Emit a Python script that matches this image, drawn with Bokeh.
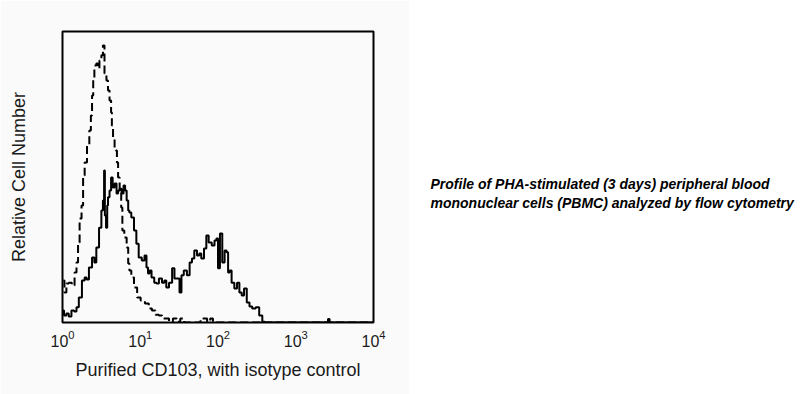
from bokeh.plotting import figure
from bokeh.layouts import row
from bokeh.models import Range1d, FixedTicker, Label
from bokeh.embed import file_html
from bokeh.resources import INLINE

# ---- data (log10 of fluorescence channel, relative count 0..100) ----
stained_log = [0.00, 0.04, 0.06, 0.10, 0.13, 0.17, 0.19, 0.23, 0.27, 0.30, 0.32, 0.36, 0.40, 0.42,
               0.45, 0.49, 0.51, 0.53, 0.54, 0.55, 0.57, 0.58, 0.59, 0.62, 0.63, 0.66, 0.68, 0.71,
               0.72, 0.75, 0.77, 0.80, 0.81, 0.84, 0.85, 0.87, 0.90, 0.94, 0.96, 1.00, 1.04, 1.07,
               1.09, 1.11, 1.13, 1.16, 1.20, 1.22, 1.26, 1.30, 1.32, 1.35, 1.39, 1.43, 1.45, 1.49,
               1.52, 1.54, 1.58, 1.62, 1.65, 1.68, 1.71, 1.75, 1.77, 1.80, 1.84, 1.86, 1.90, 1.94,
               1.97, 1.99, 2.01, 2.04, 2.07, 2.10, 2.12, 2.14, 2.16, 2.19, 2.23, 2.26, 2.29, 2.32,
               2.35, 2.39, 2.42, 2.46, 2.51, 2.55, 2.59, 2.61, 3.00, 3.41, 3.42, 3.43, 3.44, 4.00]
stained_count = [4.1, 2.4, 3.1, 2.1, 4.1, 3.8, 5.2, 8.6, 14.4, 15.5, 14.8, 18.9, 22.3, 20.6,
                 25.8, 32.6, 38.5, 41.9, 52.2, 36.8, 32.6, 40.2, 43.0, 45.4, 49.8, 46.4, 47.8, 44.3,
                 45.4, 46.0, 44.3, 47.1, 45.4, 41.9, 38.5, 37.8, 36.1, 31.6, 27.1, 22.3, 21.3, 23.0,
                 18.9, 16.8, 17.9, 15.5, 13.7, 13.4, 15.1, 13.7, 14.4, 12.0, 13.7, 18.6, 15.1, 15.1,
                 10.3, 16.2, 17.9, 16.2, 20.6, 22.0, 24.7, 23.0, 23.7, 22.0, 25.4, 29.9, 27.5, 26.5,
                 28.2, 28.9, 18.6, 30.6, 20.6, 24.7, 24.1, 17.2, 17.9, 13.7, 11.7, 13.7, 10.3, 9.3,
                 11.7, 6.9, 5.5, 4.8, 5.2, 2.4, 0.3, 0.0, 0.0, 0.0, 1.2, 1.2, 0.0, 0.0]

isotype_log = [0.01, 0.04, 0.06, 0.10, 0.14, 0.17, 0.19, 0.21, 0.23, 0.26, 0.27, 0.30, 0.33, 0.36,
               0.37, 0.39, 0.40, 0.42, 0.45, 0.46, 0.49, 0.51, 0.53, 0.55, 0.58, 0.59, 0.62, 0.63,
               0.64, 0.66, 0.68, 0.69, 0.71, 0.72, 0.75, 0.76, 0.78, 0.81, 0.84, 0.85, 0.87, 0.90,
               0.94, 0.98, 1.03, 1.09, 1.13, 1.17, 1.22, 1.26, 1.30, 1.35, 1.39, 1.45, 1.49, 1.54,
               1.59, 1.71, 1.84, 1.88, 1.92, 1.95, 4.00]
isotype_count = [14.4, 10.3, 13.4, 13.7, 12.7, 17.2, 20.6, 27.5, 35.7, 40.2, 50.5, 55.0, 60.8, 66.0,
                 71.1, 78.0, 84.2, 88.3, 89.0, 87.3, 90.0, 91.8, 95.2, 85.6, 83.2, 79.7, 76.3, 72.2,
                 67.7, 63.2, 59.8, 59.1, 55.0, 49.8, 45.4, 39.5, 31.6, 29.2, 25.8, 20.3, 17.9, 15.5,
                 12.0, 8.6, 7.6, 6.5, 4.8, 4.1, 2.7, 2.4, 1.4, 1.4, 0.3, 1.4, 0.3, 1.4,
                 0.0, 0.0, 1.4, 0.3, 1.4, 0.0, 0.0]

decade_ticks = [1, 10, 100, 1000, 10000]
x_label = "Purified CD103, with isotype control"
y_label = "Relative Cell Number"
caption_lines = ["Profile of PHA-stimulated (3 days) peripheral blood",
                 "mononuclear cells (PBMC) analyzed by flow cytometry"]

stained_x = [10 ** v for v in stained_log]
isotype_x = [10 ** v for v in isotype_log]

BG = "#fafafa"
FONT = "Liberation Sans"

p = figure(width=409, height=394, x_axis_type="log",
           x_range=Range1d(1, 10000), y_range=Range1d(0, 100),
           output_backend="svg", toolbar_location=None,
           min_border_left=62, min_border_right=36, min_border_top=31, min_border_bottom=72)
p.background_fill_color = BG
p.border_fill_color = BG
p.outline_line_color = "black"
p.outline_line_width = 2
p.grid.visible = False

p.step(stained_x, stained_count, mode="center", line_color="black", line_width=2)
p.step(isotype_x, isotype_count, mode="center", line_color="black", line_width=2,
       line_dash="8 4")

xa = p.xaxis[0]
xa.ticker = FixedTicker(ticks=decade_ticks, minor_ticks=[])
xa.axis_line_color = None
xa.major_tick_line_color = None
xa.minor_tick_line_color = None
xa.major_tick_out = 0
xa.major_label_standoff = 7
xa.major_label_text_font = FONT
xa.major_label_text_font_size = "16px"
xa.major_label_text_color = "#1a1a1a"
xa.axis_label = x_label
xa.axis_label_text_font = FONT
xa.axis_label_text_font_size = "18px"
xa.axis_label_text_font_style = "normal"
xa.axis_label_text_color = "#1a1a1a"
xa.axis_label_standoff = 10

ya = p.yaxis[0]
ya.ticker = FixedTicker(ticks=[], minor_ticks=[])
ya.axis_line_color = None
ya.major_tick_line_color = None
ya.minor_tick_line_color = None
ya.major_tick_out = 0
ya.axis_label = y_label
ya.axis_label_text_font = FONT
ya.axis_label_text_font_size = "18px"
ya.axis_label_text_font_style = "normal"
ya.axis_label_text_color = "#1a1a1a"
ya.axis_label_standoff = 34

# caption panel: its frame is aligned with the chart frame (291 px tall)
q = figure(width=400, height=394, x_range=Range1d(0, 400), y_range=Range1d(0, 291),
           output_backend="svg", toolbar_location=None,
           min_border_left=0, min_border_right=0, min_border_top=31, min_border_bottom=72)
q.axis.visible = False
q.grid.visible = False
q.outline_line_color = None
q.background_fill_color = "white"
q.border_fill_color = "white"
for i, line in enumerate(caption_lines):
    q.add_layout(Label(x=21, y=139 - i * 19, text=line, text_font=FONT,
                       text_font_size="14px", text_font_style="bold italic",
                       text_color="black", text_baseline="middle"))

layout = row(p, q, spacing=0)
open("out.html", "w").write(file_html(layout, INLINE))
